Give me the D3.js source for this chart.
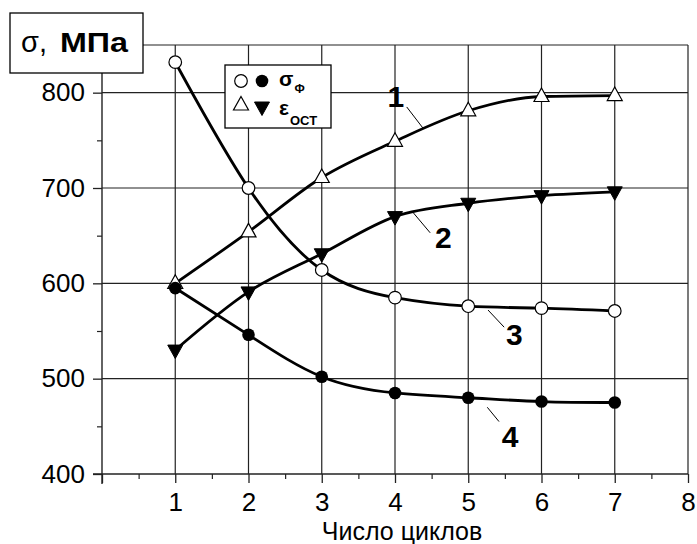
<!DOCTYPE html>
<html>
<head>
<meta charset="utf-8">
<script src="https://cdn.jsdelivr.net/npm/d3@7"></script>
<style>
  body { margin: 0; background: #fff; }
  svg { display: block; }
  text { font-family: "Liberation Sans", Arial, sans-serif; fill: #000; }
</style>
</head>
<body>
<div id="chart"></div>
<script>
// values
var cycles = [1, 2, 3, 4, 5, 6, 7];
var curve1 = [600, 654, 711, 749, 781, 796, 797];   // open triangles
var curve2 = [530, 591, 631, 670, 684, 692, 696];   // filled triangles
var curve3 = [832, 700, 614, 585, 576, 574, 571];   // open circles
var curve4 = [595, 546, 502, 485, 480, 476, 475];   // filled circles
var xTicks = [1, 2, 3, 4, 5, 6, 7, 8];
var yTicks = [400, 500, 600, 700, 800];
var yGrid = [500, 600, 700, 800, 850];

// curve number labels with leader lines (data units)
var curveLabels = [
  {text: "1", x: 4.01, y: 785, lx1: 4.16, ly1: 785, lx2: 4.38, ly2: 763},
  {text: "2", x: 4.66, y: 637, lx1: 4.25, ly1: 674, lx2: 4.48, ly2: 653},
  {text: "3", x: 5.63, y: 535, lx1: 5.27, ly1: 572, lx2: 5.49, ly2: 554},
  {text: "4", x: 5.57, y: 428, lx1: 5.26, ly1: 470, lx2: 5.42, ly2: 455}
];

var width = 697, height = 544;

var svg = d3.select("#chart")
  .append("svg")
    .attr("width", width)
    .attr("height", height);

var x = d3.scaleLinear().domain([0, 8]).range([102, 688]);
var y = d3.scaleLinear().domain([400, 850]).range([474, 45]);

// grid
svg.append("g").selectAll("line")
  .data(xTicks)
  .enter().append("line")
    .attr("x1", function(d) { return x(d); })
    .attr("x2", function(d) { return x(d); })
    .attr("y1", y(400)).attr("y2", y(850))
    .style("stroke", "#222").style("stroke-width", 1.2);

svg.append("g").selectAll("line")
  .data(yGrid)
  .enter().append("line")
    .attr("x1", x(0)).attr("x2", x(8))
    .attr("y1", function(d) { return y(d); })
    .attr("y2", function(d) { return y(d); })
    .style("stroke", "#222").style("stroke-width", 1.2);

// x axis
var xAxis = svg.append("g")
  .attr("transform", "translate(0," + y(400) + ")")
  .call(d3.axisBottom(x).tickValues([0].concat(xTicks)).tickSize(9)
    .tickFormat(function(d) { return d === 0 ? "" : d; }));
xAxis.select(".domain").remove();
xAxis.append("line").attr("x1", x(0) - 9).attr("x2", x(8))
  .style("stroke", "#222").style("stroke-width", 1.4);
xAxis.selectAll(".tick line").style("stroke", "#222").style("stroke-width", 1.3);
xAxis.selectAll(".tick text")
  .attr("y", 37).attr("dy", 0)
  .style("font-size", "26px").style("font-family", "Liberation Sans, Arial, sans-serif");

svg.append("g")
  .attr("transform", "translate(0," + y(400) + ")")
  .call(d3.axisBottom(x).tickValues(d3.range(0.5, 8, 1)).tickSize(5).tickFormat(""))
  .call(function(g) { g.select(".domain").remove(); })
  .selectAll("line").style("stroke", "#222").style("stroke-width", 1.2);

// y axis
var yAxis = svg.append("g")
  .attr("transform", "translate(" + x(0) + ",0)")
  .call(d3.axisLeft(y).tickValues(yTicks).tickSize(9).tickPadding(8));
yAxis.select(".domain").remove();
yAxis.append("line").attr("y1", y(850)).attr("y2", y(400) + 10)
  .style("stroke", "#222").style("stroke-width", 1.4);
yAxis.selectAll(".tick line").style("stroke", "#222").style("stroke-width", 1.3);
yAxis.selectAll(".tick text")
  .style("font-size", "26px").style("font-family", "Liberation Sans, Arial, sans-serif");

svg.append("g")
  .attr("transform", "translate(" + x(0) + ",0)")
  .call(d3.axisLeft(y).tickValues([450, 550, 650, 750]).tickSize(5).tickFormat(""))
  .call(function(g) { g.select(".domain").remove(); })
  .selectAll("line").style("stroke", "#222").style("stroke-width", 1.2);

// curves
var lineNatural = d3.line()
  .x(function(d) { return x(d[0]); })
  .y(function(d) { return y(d[1]); })
  .curve(d3.curveNatural);
var lineMono = d3.line()
  .x(function(d) { return x(d[0]); })
  .y(function(d) { return y(d[1]); })
  .curve(d3.curveMonotoneX);

var series = [
  {vals: curve1, marker: "tri-up", line: lineMono},
  {vals: curve2, marker: "tri-down", line: lineMono},
  {vals: curve3, marker: "circle-open", line: lineNatural},
  {vals: curve4, marker: "circle-fill", line: lineNatural}
];

series.forEach(function(s) {
  svg.append("path")
    .datum(d3.zip(cycles, s.vals))
    .attr("d", s.line)
    .style("fill", "none")
    .style("stroke", "#000")
    .style("stroke-width", 2.8);
});

var triUp = "M0,-8.5L7.5,5L-7.5,5Z";
var triDown = "M0,8.5L7.5,-5L-7.5,-5Z";

function drawMarker(g, type) {
  if (type === "tri-up") {
    g.append("path").attr("d", triUp).style("fill", "#fff").style("stroke", "#000").style("stroke-width", 1.2);
  } else if (type === "tri-down") {
    g.append("path").attr("d", triDown).style("fill", "#000").style("stroke", "#000").style("stroke-width", 1);
  } else if (type === "circle-open") {
    g.append("circle").attr("r", 6.3).style("fill", "#fff").style("stroke", "#000").style("stroke-width", 1.2);
  } else {
    g.append("circle").attr("r", 6.3).style("fill", "#000");
  }
}

series.forEach(function(s) {
  svg.append("g").selectAll("g")
    .data(d3.zip(cycles, s.vals))
    .enter().append("g")
      .attr("transform", function(d) { return "translate(" + x(d[0]) + "," + y(d[1]) + ")"; })
      .each(function() { drawMarker(d3.select(this), s.marker); });
});

// curve labels
svg.append("g").selectAll("line")
  .data(curveLabels)
  .enter().append("line")
    .attr("x1", function(d) { return x(d.lx1); })
    .attr("y1", function(d) { return y(d.ly1); })
    .attr("x2", function(d) { return x(d.lx2); })
    .attr("y2", function(d) { return y(d.ly2); })
    .style("stroke", "#000").style("stroke-width", 1);

svg.append("g").selectAll("text")
  .data(curveLabels)
  .enter().append("text")
    .attr("x", function(d) { return x(d.x); })
    .attr("y", function(d) { return y(d.y); })
    .attr("text-anchor", "middle")
    .style("font-size", "30px")
    .style("font-weight", "bold")
    .text(function(d) { return d.text; });

// legend
var legend = svg.append("g");
legend.append("rect")
  .attr("x", 225).attr("y", 65).attr("width", 106).attr("height", 63)
  .style("fill", "#fff").style("stroke", "#000").style("stroke-width", 1.3);
drawMarker(legend.append("g").attr("transform", "translate(241,81)"), "circle-open");
drawMarker(legend.append("g").attr("transform", "translate(262,81)"), "circle-fill");
drawMarker(legend.append("g").attr("transform", "translate(241,105)"), "tri-up");
drawMarker(legend.append("g").attr("transform", "translate(262,107)"), "tri-down");

var l1 = legend.append("text").attr("x", 279).attr("y", 86)
  .style("font-size", "21px").style("font-weight", "bold");
l1.append("tspan").text("σ");
l1.append("tspan").attr("dy", 7).attr("dx", 1).style("font-size", "12px").text("Ф");

var l2 = legend.append("text").attr("x", 279).attr("y", 115)
  .style("font-size", "21px").style("font-weight", "bold");
l2.append("tspan").text("ε");
l2.append("tspan").attr("dy", 10).attr("dx", 1).style("font-size", "13px").text("ОСТ");

// y title box
svg.append("rect")
  .attr("x", 10).attr("y", 13).attr("width", 133).attr("height", 60)
  .style("fill", "#fff").style("stroke", "#000").style("stroke-width", 1.3);
var yt = svg.append("text").attr("x", 21).attr("y", 52).style("font-size", "29px");
yt.append("tspan").text("σ,");
yt.append("tspan").attr("x", 60).style("font-weight", "bold").style("font-size", "27px")
  .attr("textLength", 68).attr("lengthAdjust", "spacingAndGlyphs").text("МПа");

// x title
svg.append("text")
  .attr("x", 402).attr("y", 540)
  .attr("text-anchor", "middle")
  .style("font-size", "25px")
  .text("Число циклов");
</script>
</body>
</html>
